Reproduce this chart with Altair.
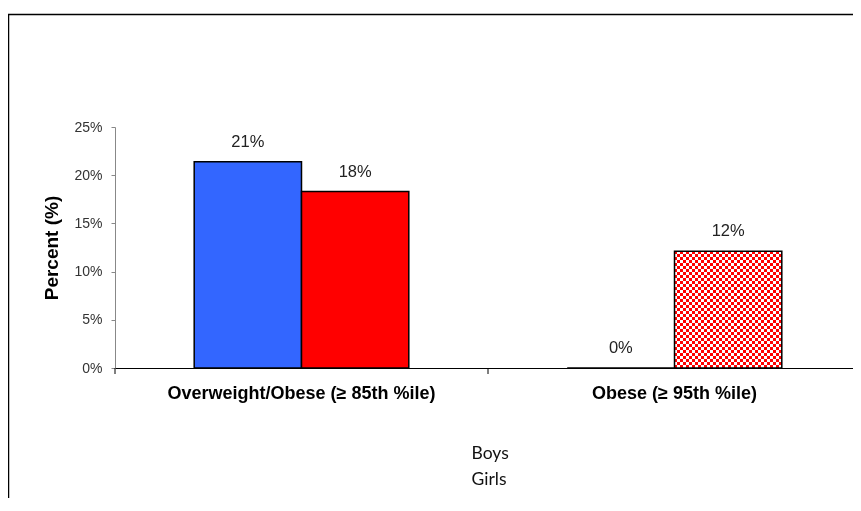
import altair as alt
import pandas as pd

categories = ["Overweight/Obese (≥ 85th %ile)", "Obese (≥ 95th %ile)"]
groups = ["Boys", "Girls"]
boys = [0.214, 0.0]
girls = [0.183, 0.121]
labels_boys = ["21%", "0%"]
labels_girls = ["18%", "12%"]
patterned = [(categories[1], "Girls")]

rows = []
for i, c in enumerate(categories):
    rows.append({"cat": c, "sex": "Boys", "value": boys[i], "label": labels_boys[i],
                 "pat": (c, "Boys") in patterned})
    rows.append({"cat": c, "sex": "Girls", "value": girls[i], "label": labels_girls[i],
                 "pat": (c, "Girls") in patterned})
df = pd.DataFrame(rows)

W, H = 738, 241
RANGE_W = 746
FONT = "Liberation Sans"

def stripes(c1, c2, n, along_x):
    stops = []
    for k in range(n):
        col = c1 if k % 2 == 0 else c2
        stops.append({"offset": k / n, "color": col})
        stops.append({"offset": (k + 1) / n, "color": col})
    g = {"gradient": "linear", "stops": stops}
    if along_x:
        g.update({"x1": 0, "y1": 0, "x2": 1, "y2": 0})
    else:
        g.update({"x1": 0, "y1": 0, "x2": 0, "y2": 1})
    return g

x_scale = alt.Scale(domain=categories, range=[0, RANGE_W], paddingInner=0, paddingOuter=0)
x_enc = alt.X("cat:N", sort=categories, scale=x_scale,
              axis=alt.Axis(title=None, ticks=False, tickSize=0, labelAngle=0, labelLimit=0,
                            labelFont=FONT, labelFontSize=18, labelFontWeight="bold",
                            labelColor="#000", labelPadding=16, domainColor="#000",
                            domainWidth=1))
x_plain = alt.X("cat:N", sort=categories, scale=x_scale)
xo_enc = alt.XOffset("sex:N", sort=groups,
                     scale=alt.Scale(domain=groups, paddingOuter=0.738, paddingInner=0))
xo_plain = alt.XOffset("sex:N", sort=groups)
y_enc = alt.Y("value:Q", scale=alt.Scale(domain=[0, 0.25], nice=False),
              axis=alt.Axis(title="Percent (%)", format=".0%", values=[0, 0.05, 0.1, 0.15, 0.2, 0.25],
                            grid=False, tickSize=4, tickColor="#888", domainColor="#888",
                            labelFont=FONT, labelFontSize=14, labelColor="#333",
                            labelPadding=9, titleFont=FONT, titleFontSize=19,
                            titleFontWeight="bold", titleColor="#000", titlePadding=12))
y_plain = alt.Y("value:Q")

base = alt.Chart(df)

border = alt.Chart(pd.DataFrame({"a": [0]})).mark_rect(
    fillOpacity=0, stroke="#000", strokeWidth=1.5
).encode(x=alt.value(-106.5), x2=alt.value(W + 60), y=alt.value(-112.5), y2=alt.value(H + 300))

solid = base.transform_filter("!datum.pat").mark_bar(stroke="#000", strokeWidth=1.5).encode(
    x=x_enc, xOffset=xo_enc, y=y_enc,
    color=alt.Color("sex:N", sort=groups,
                    scale=alt.Scale(domain=groups, range=["#3366FF", "#FF0000"]),
                    legend=alt.Legend(title=None, orient="none", legendX=339, legendY=318,
                                      symbolOpacity=0, symbolSize=0, symbolStrokeWidth=0,
                                      labelOffset=0, labelFont="Lato", labelFontSize=17.5,
                                      labelColor="#111", rowPadding=7.5))
)

pat1 = base.transform_filter("datum.pat").mark_bar(
    fill=stripes("#FF0000", "#FFFFFF", 39, False), strokeWidth=0
).encode(x=x_plain, xOffset=xo_plain, y=y_plain)

pat2 = base.transform_filter("datum.pat").mark_bar(
    fill=stripes("#000000", "#00FFFF", 36, True), strokeWidth=0, blend="difference"
).encode(x=x_plain, xOffset=xo_plain, y=y_plain)

outline = base.transform_filter("datum.pat").mark_bar(
    fillOpacity=0, stroke="#000", strokeWidth=1.5
).encode(x=x_plain, xOffset=xo_plain, y=y_plain)

ticks = alt.Chart(pd.DataFrame({"cat": categories})).mark_rule(color="#000", strokeWidth=1).encode(
    x=alt.X("cat:N", sort=categories, bandPosition=0), y=alt.value(H), y2=alt.value(H + 6)
)

text = base.mark_text(font=FONT, fontSize=16.5, color="#222", dy=-15, baseline="alphabetic").encode(
    x=x_plain, xOffset=xo_plain, y=y_plain, text="label:N"
)

chart = alt.layer(border, solid, pat1, pat2, outline, ticks, text).properties(
    width=W, height=H,
    padding={"left": 107, "top": 119, "right": 0, "bottom": 130},
    autosize=alt.AutoSizeParams(type="none"),
).configure(background="#ffffff").configure_view(strokeWidth=0).configure_axis(grid=False)

chart.save("out.html", embed_options={"renderer": "svg", "actions": False})
